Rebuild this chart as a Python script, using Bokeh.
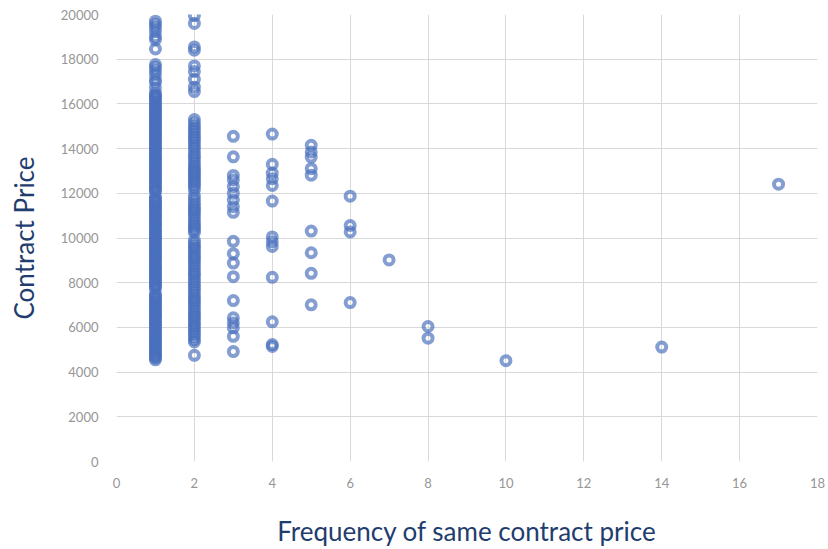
from bokeh.plotting import figure
from bokeh.models import Range1d, FixedTicker, ColumnDataSource
from bokeh.embed import file_html
from bokeh.resources import INLINE

# ---- data ----
price_f1 = [19700, 19560, 19420, 19230, 19010, 18880, 18460, 17760, 17640, 17480,
            17310, 17090, 16960, 16720, 16480, 16400, 16340, 16260, 16190, 16080,
            16010, 15930, 15840, 15760, 15690, 15620, 15530, 15440, 15380, 15310,
            15220, 15140, 15080, 15010, 14930, 14860, 14770, 14690, 14620, 14560,
            14470, 14380, 14320, 14260, 14170, 14090, 14030, 13960, 13880, 13810,
            13720, 13640, 13590, 13520, 13430, 13340, 13270, 13210, 13120, 13040,
            12980, 12910, 12830, 12760, 12670, 12590, 12530, 12460, 12370, 12290,
            12220, 12140, 12060, 11840, 11770, 11690, 11620, 11560, 11470, 11380,
            11320, 11260, 11170, 11090, 11030, 10960, 10880, 10810, 10720, 10640,
            10580, 10510, 10420, 10330, 10270, 10210, 10120, 10040, 9970, 9910,
            9820, 9740, 9680, 9610, 9520, 9440, 9370, 9310, 9220, 9140,
            9080, 9020, 8930, 8860, 8770, 8690, 8630, 8560, 8470, 8390,
            8330, 8260, 8170, 8110, 8030, 7940, 7880, 7810, 7720, 7490,
            7420, 7340, 7280, 7210, 7120, 7060, 6980, 6890, 6830, 6760,
            6670, 6590, 6530, 6460, 6370, 6290, 6220, 6160, 6080, 6010,
            5930, 5860, 5770, 5690, 5630, 5560, 5470, 5390, 5320, 5260,
            5170, 5110, 5030, 4960, 4880, 4810, 4740, 4690, 4620, 4550]
price_f2 = [19950, 19600, 18550, 18400, 17700, 17450, 17100, 16750, 16550, 15300,
            15150, 15000, 14870, 14750, 14620, 14500, 14380, 14250, 14120, 14000,
            13850, 13700, 13580, 13450, 13320, 13200, 13100, 13000, 12900, 12800,
            12700, 12600, 12500, 12400, 12280, 12150, 11900, 11750, 11600, 11470,
            11350, 11250, 11150, 11020, 10900, 10770, 10650, 10550, 10450, 10350,
            10250, 9900, 9770, 9650, 9550, 9450, 9320, 9200, 9100, 9000,
            8870, 8750, 8620, 8500, 8400, 8300, 8170, 8050, 7920, 7800,
            7670, 7550, 7420, 7300, 7200, 7100, 6970, 6850, 6720, 6600,
            6500, 6400, 6270, 6150, 6050, 5950, 5820, 5700, 5570, 5450,
            5350, 4750]
price_f3 = [14550, 13630, 12800, 12600, 12300, 12000, 11700, 11400, 11150, 9850,
            9300, 8880, 8270, 7200, 6430, 6200, 5980, 5600, 4920]
price_f4 = [14650, 13300, 12900, 12650, 12350, 11650, 10050, 9830, 9620, 8240,
            6250, 5230, 5150]
price_f5 = [14150, 13850, 13620, 13100, 12810, 10310, 9340, 8420, 7010]
price_f6 = [11870, 10560, 10270, 7110]
price_f7 = [9020]
price_f8 = [6040, 5520]
price_f10 = [4510]
price_f14 = [5120]
price_f17 = [12410]

groups = [(1, price_f1), (2, price_f2), (3, price_f3), (4, price_f4), (5, price_f5),
          (6, price_f6), (7, price_f7), (8, price_f8), (10, price_f10),
          (14, price_f14), (17, price_f17)]

x_ticks = [0, 2, 4, 6, 8, 10, 12, 14, 16, 18]
y_ticks = [0, 2000, 4000, 6000, 8000, 10000, 12000, 14000, 16000, 18000, 20000]

freq = []
price = []
for f, vals in groups:
    for v in vals:
        freq.append(f)
        price.append(v)

src = ColumnDataSource(dict(freq=freq, price=price))

p = figure(width=828, height=549, output_backend="svg", toolbar_location=None,
           x_range=Range1d(0, 18), y_range=Range1d(0, 20000),
           min_border_left=116, min_border_right=11, min_border_top=14,
           min_border_bottom=87)

p.scatter("freq", "price", source=src, marker="circle", size=9,
          fill_color=None, line_color="#4a70bc", line_width=4, line_alpha=0.68)

p.outline_line_color = None
p.background_fill_color = "white"
p.border_fill_color = "white"

for ax in (p.xaxis, p.yaxis):
    ax.axis_line_color = None
    ax.major_tick_line_color = None
    ax.minor_tick_line_color = None
    ax.major_label_text_color = "#969696"
    ax.major_label_text_font = "Lato"
    ax.major_label_text_font_size = "13px"
    ax.axis_label_text_color = "#1f3d6e"
    ax.axis_label_text_font = "Lato"
    ax.axis_label_text_font_size = "26px"
    ax.axis_label_text_font_style = "normal"

p.xaxis.ticker = FixedTicker(ticks=x_ticks)
p.yaxis.ticker = FixedTicker(ticks=y_ticks)
p.xaxis.axis_label = "Frequency of same contract price"
p.yaxis.axis_label = "Contract Price"
p.xaxis.major_label_standoff = 10
p.yaxis.major_label_standoff = 12
p.xaxis.axis_label_standoff = 24
p.yaxis.axis_label_standoff = 18

p.xgrid.ticker = FixedTicker(ticks=x_ticks)
p.ygrid.ticker = FixedTicker(ticks=y_ticks)
p.xgrid.grid_line_color = "#d9d9d9"
p.ygrid.grid_line_color = "#d9d9d9"

open("out.html", "w").write(file_html(p, INLINE))
